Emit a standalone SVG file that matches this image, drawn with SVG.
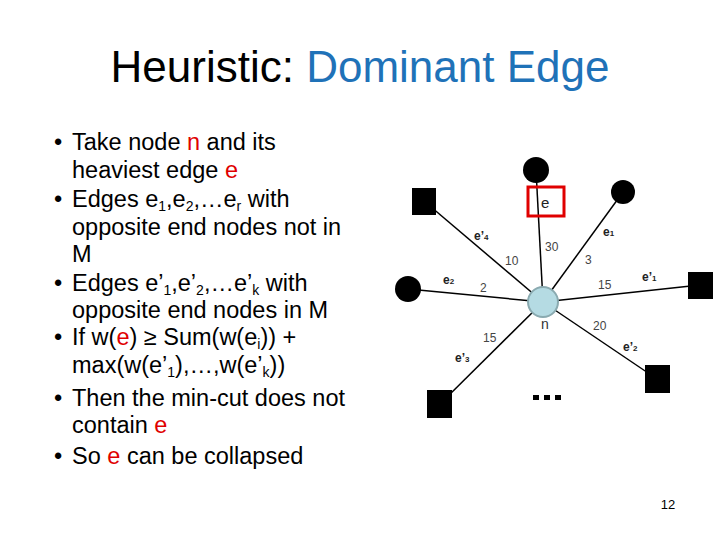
<svg xmlns="http://www.w3.org/2000/svg" width="720" height="540" viewBox="0 0 720 540">
<style>
text{font-family:"Liberation Sans",Arial,sans-serif}
.b{font-size:23.5px;fill:#000}
.r{fill:#e00000}
.lb{font-size:12px;fill:#444}
.el{font-size:12px;font-weight:bold;fill:#222}
.sq{fill:#000}
</style>
<rect width="720" height="540" fill="#fff"/>
<text x="360" y="82" font-size="44" text-anchor="middle"><tspan fill="#000">Heuristic: </tspan><tspan fill="#1f72b8">Dominant Edge</tspan></text>
<g class="b">
<text x="54" y="150">•</text><text x="72" y="150">Take node <tspan class="r">n</tspan> and its</text>
<text x="72" y="178">heaviest edge <tspan class="r">e</tspan></text>
<text x="54" y="207">•</text><text x="72" y="207">Edges e<tspan font-size="14" dy="4">1</tspan><tspan dy="-4">,e</tspan><tspan font-size="14" dy="4">2</tspan><tspan dy="-4">,…e</tspan><tspan font-size="14" dy="4">r</tspan><tspan dy="-4"> with</tspan></text>
<text x="72" y="235">opposite end nodes not in</text>
<text x="72" y="262">M</text>
<text x="54" y="291">•</text><text x="72" y="291">Edges e’<tspan font-size="14" dy="4">1</tspan><tspan dy="-4">,e’</tspan><tspan font-size="14" dy="4">2</tspan><tspan dy="-4">,…e’</tspan><tspan font-size="14" dy="4">k</tspan><tspan dy="-4">  with</tspan></text>
<text x="72" y="318">opposite end nodes in M</text>
<text x="54" y="345">•</text><text x="72" y="345">If w(<tspan class="r">e</tspan>) ≥ Sum(w(e<tspan font-size="14" dy="4">i</tspan><tspan dy="-4">)) +</tspan></text>
<text x="72" y="373">max(w(e’<tspan font-size="14" dy="4">1</tspan><tspan dy="-4">),…,w(e’</tspan><tspan font-size="14" dy="4">k</tspan><tspan dy="-4">))</tspan></text>
<text x="54" y="406">•</text><text x="72" y="406">Then the min-cut does not</text>
<text x="72" y="433">contain <tspan class="r">e</tspan></text>
<text x="54" y="464">•</text><text x="72" y="464">So <tspan class="r">e</tspan> can be collapsed</text>
</g>
<g id="connectors" stroke="#000" stroke-width="1.5">
<line x1="543" y1="302" x2="536" y2="170"/>
<line x1="543" y1="302" x2="623" y2="192"/>
<line x1="543" y1="302" x2="424" y2="201"/>
<line x1="543" y1="302" x2="408" y2="289"/>
<line x1="543" y1="302" x2="700" y2="285"/>
<line x1="543" y1="302" x2="657" y2="379"/>
<line x1="543" y1="302" x2="440" y2="404"/>
</g>
<g id="labels">
<text class="el" x="474" y="240">e’<tspan font-size="8">4</tspan></text>
<text class="lb" x="505" y="265">10</text>
<text class="lb" x="545" y="251">30</text>
<text class="el" x="603" y="236">e<tspan font-size="8">1</tspan></text>
<text class="lb" x="585" y="264">3</text>
<text class="el" x="642" y="281">e’<tspan font-size="8">1</tspan></text>
<text class="lb" x="598" y="289">15</text>
<text class="el" x="443" y="284">e<tspan font-size="8">2</tspan></text>
<text class="lb" x="480" y="292">2</text>
<text class="lb" x="483" y="342">15</text>
<text class="el" x="455" y="362">e’<tspan font-size="8">3</tspan></text>
<text class="lb" x="593" y="330">20</text>
<text class="el" x="623" y="351">e’<tspan font-size="8">2</tspan></text>
</g>
<g id="node-top"><circle cx="536" cy="170" r="13" fill="#000"/></g>
<g id="edge-e"><rect x="528" y="187" width="36" height="29" fill="none" stroke="#e00000" stroke-width="3"/><text x="541" y="208" font-size="15" fill="#222">e</text></g>
<g id="node-topright"><circle cx="623" cy="192" r="12" fill="#000"/></g>
<g id="node-topleft"><rect class="sq" x="412" y="188" width="24" height="27"/></g>
<g id="node-left"><circle cx="408" cy="289" r="13" fill="#000"/></g>
<g id="node-right"><rect class="sq" x="688" y="272" width="25" height="27"/></g>
<g id="node-bottomright"><rect class="sq" x="645" y="365" width="25" height="28"/></g>
<g id="node-bottomleft"><rect class="sq" x="427" y="390" width="25" height="28"/></g>
<g id="node-n"><circle cx="543" cy="302" r="15" fill="#b5dbe3" stroke="#8aaab0" stroke-width="2"/><text x="541" y="329" font-size="14" fill="#333">n</text></g>
<g id="ellipsis" fill="#000"><rect x="533" y="395" width="6" height="5"/><rect x="544" y="395" width="6" height="5"/><rect x="555" y="395" width="6" height="5"/></g>
<text x="668" y="509" font-size="13" text-anchor="middle" fill="#000">12</text>
</svg>
